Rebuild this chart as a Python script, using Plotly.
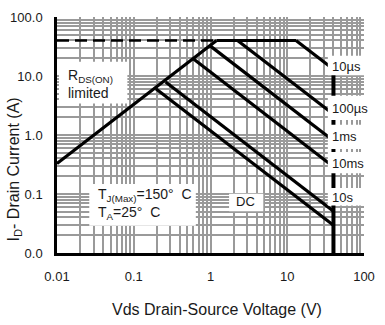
import plotly.graph_objects as go

# ---------------- data ----------------
x_tick_vals = [0.01, 0.1, 1, 10, 100]
x_tick_text = ["0.01", "0.1", "1", "10", "100"]
y_tick_vals = [0.01, 0.1, 1, 10, 100]
y_tick_text = ["0.0", "0.1", "1.0", "10.0", "100.0"]
minor_digits = [2, 3, 4, 5, 6, 7, 8, 9]
decades = [0.01, 0.1, 1, 10]

# R_DS(on) limit line
v_rds = [0.01, 1.2]
i_rds = [0.33, 40.0]
# package current limit (dashed continuation + solid top)
v_dash = [0.01, 1.2]
i_dash = [40.0, 40.0]
v_top = [1.2, 13.0]
i_top = [40.0, 40.0]
# pulse-width lines
v_10us = [13.0, 40.0]
i_10us = [40.0, 13.0]
v_100us = [2.25, 40.0]
i_100us = [40.0, 2.25]
v_1ms = [0.98, 40.0]
i_1ms = [32.7, 0.80]
v_10ms = [0.59, 40.0]
i_10ms = [19.8, 0.29]
v_10s = [0.26, 40.0]
i_10s = [7.9, 0.051]
v_dc = [0.194, 40.0]
i_dc = [6.1, 0.0296]
# BVdss vertical limit
v_bv = [40.0, 40.0]
i_bv = [0.01, 13.0]

# ---------------- layout geometry ----------------
W, H = 385, 325
L, R, T, B = 56, 15, 10, 72
PW, PH = W - L - R, H - T - B

def px(x):
    return (x - L) / PW

def py(y):
    return (H - B - y) / PH

FONT = "Arial, Liberation Sans, sans-serif"
TXT = "#1a1a1a"

fig = go.Figure()

def seg(v, i, width=3.2, dash=None):
    fig.add_trace(go.Scatter(x=v, y=i, mode="lines",
                             line=dict(color="black", width=width, dash=dash),
                             hoverinfo="skip", showlegend=False))

seg(v_dash, i_dash, width=2.6, dash="12px,6px")
seg(v_rds, i_rds)
seg(v_top, i_top)
seg(v_10us, i_10us)
seg(v_100us, i_100us)
seg(v_1ms, i_1ms)
seg(v_10ms, i_10ms)
seg(v_10s, i_10s)
seg(v_dc, i_dc)
seg(v_bv, i_bv, width=4)

minor_x = [d * m for d in decades for m in minor_digits]
minor_y = [d * m for d in decades for m in minor_digits]

grid = dict(showgrid=True, gridcolor="#9a9a9a", gridwidth=1.5)

fig.update_xaxes(type="log", range=[-2, 2], tickvals=x_tick_vals, ticktext=x_tick_text,
                 ticks="", ticklabelstandoff=10,
                 tickfont=dict(family=FONT, size=13, color=TXT),
                 showline=True, linecolor="black", linewidth=2.5, zeroline=False,
                 minor=dict(tickvals=minor_x, ticks="", **grid), **grid)
fig.update_yaxes(type="log", range=[-2, 2], tickvals=y_tick_vals, ticktext=y_tick_text,
                 ticks="", ticklabelstandoff=9,
                 tickfont=dict(family=FONT, size=13, color=TXT),
                 showline=True, linecolor="black", linewidth=2.5, zeroline=False,
                 minor=dict(tickvals=minor_y, ticks="", **grid), **grid)

# white label boxes (pixel rectangles: x0, x1, y0, y1)
boxes = [
    (58, 128, 56, 99),
    (89, 198, 182, 225),
    (232, 267, 192, 210),
    (333, 384, 50, 70),
    (333, 384, 91, 116),
    (333, 384, 121, 146),
    (333, 384, 149, 171),
    (333, 384, 186, 204),
]
for x0, x1, y0, y1 in boxes:
    fig.add_shape(type="rect", xref="paper", yref="paper",
                  x0=px(x0), x1=px(x1), y0=py(y1), y1=py(y0),
                  fillcolor="white", line=dict(width=0), layer="above")

def label(text, x, y, size=13, xanchor="left", align="left"):
    fig.add_annotation(text=text, xref="paper", yref="paper", x=px(x), y=py(y),
                       xanchor=xanchor, yanchor="middle", align=align, showarrow=False,
                       font=dict(family=FONT, size=size, color=TXT))

label("10µs", 335, 61)
label("100µs", 335, 104)
label("1ms", 335, 133)
label("10ms", 335, 161)
label("10s", 335, 196)
label("DC", 249, 200, xanchor="center", align="center")
label("R<sub>DS(ON)</sub><br>limited", 65, 79, size=14)
label("T<sub>J(Max)</sub>=150°  C<br>T<sub>A</sub>=25°  C", 96, 203, size=14)

# axis titles
fig.add_annotation(text="I<sub>D</sub>- Drain Current (A)", xref="paper", yref="paper",
                   x=px(12), y=py(167), textangle=-90, showarrow=False,
                   xanchor="center", yanchor="middle",
                   font=dict(family=FONT, size=16, color=TXT))
fig.add_annotation(text="Vds Drain-Source Voltage (V)", xref="paper", yref="paper",
                   x=px(220), y=py(311), showarrow=False,
                   xanchor="center", yanchor="middle",
                   font=dict(family=FONT, size=16, color=TXT))

fig.update_layout(width=W, height=H, margin=dict(l=L, r=R, t=T, b=B),
                  paper_bgcolor="white", plot_bgcolor="white", showlegend=False)

fig.write_html("out.html")
